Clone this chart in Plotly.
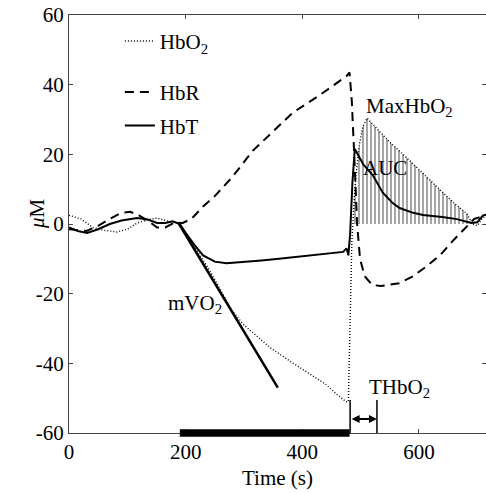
import numpy as np
import plotly.graph_objects as go

# ---- data ----
hbo2_t = [0, 20, 41, 60, 82, 100, 117, 135, 151, 165, 175, 190, 205, 220, 240, 260, 280, 300, 320,
          345, 380, 413, 440, 460, 475, 479, 482, 485, 490, 497, 504, 511, 530, 550, 579, 610, 636,
          660, 682, 692, 700, 708, 715]
hbo2_v = [2.5, 1.5, -1, -1.8, -2.3, -1.5, 0.3, 1.2, 1.7, 1.0, 0.6, 0, -4, -8, -13, -19, -25, -29, -32,
          -35.5, -39.5, -43, -46, -49, -51, -51, -30, -5, 10, 22, 28, 30.4, 27, 23.5, 19, 14, 9.8,
          6, 3, 0, -0.5, 1.5, 2.5]

hbr_t = [0, 30, 50, 70, 90, 105, 120, 135, 151, 165, 180, 195, 210, 230, 250, 280, 315, 350, 384,
         430, 460, 476, 481, 485, 489, 494, 499, 507, 520, 535, 566, 590, 614, 636, 660, 680, 695, 715]
hbr_v = [-1.5, -2, -0.5, 1.5, 3.2, 3.5, 2.5, 1.0, -1, -1.0, 0.3, 0.3, 1.5, 5, 8, 13.5, 21, 26.5, 32,
         37, 40.5, 42.5, 43.5, 35, 20, 0, -10, -15, -17.5, -17.8, -17, -15, -12, -9, -4.5, -1, 1.5, 2.5]

hbt_t = [0, 15, 31, 50, 70, 90, 117, 135, 151, 165, 178, 190, 200, 215, 230, 250, 270, 300, 330,
         360, 400, 440, 470, 476, 479, 482, 486, 490, 495, 505, 521, 538, 555, 567, 590, 607, 640,
         665, 690, 700, 710, 715]
hbt_v = [-1, -2, -2.6, -1.5, 0, 1, 1.7, 1.3, 0.3, 0.3, 0.8, 0, -2.5, -6, -9, -10.8, -11.3, -11, -10.5,
         -10, -9.3, -8.7, -8, -7, -9, -3, 12, 21.5, 20, 17, 14, 9, 6, 4.6, 3.2, 2.6, 2,
         1.4, 0.3, 0.5, 2.5, 2.7]

mvo2_t = [187, 358]
mvo2_v = [0.5, -47]

stim_t = [190, 481]          # stimulus bar
thbo2_t = [482, 528]         # time-to-peak interval
thbo2_level = [-50.5, -56]   # marker top / arrow level
auc_range = [485, 692]

x_ticks = [0, 200, 400, 600]
x_ticktext = ["0", "200", "400", "600"]
y_ticks = [-60, -40, -20, 0, 20, 40, 60]
y_ticktext = ["-60", "-40", "-20", "0", "20", "40", "60"]

FONT = "Liberation Serif"
FS = 21

fig = go.Figure()

# AUC hatch (from HbO2 values)
ht = np.array(hbo2_t, dtype=float)
hv = np.array(hbo2_v, dtype=float)
m = (ht >= auc_range[0]) & (ht <= auc_range[1])
fig.add_trace(go.Scatter(x=ht[m], y=np.clip(hv[m], 0, None), mode="lines", line=dict(width=0),
                         fill="tozeroy", fillcolor="rgba(0,0,0,0)",
                         fillpattern=dict(shape="|", size=4, solidity=0.35, fgcolor="black",
                                          bgcolor="rgba(0,0,0,0)", fillmode="overlay"),
                         showlegend=False, hoverinfo="skip"))

fig.add_trace(go.Scatter(x=hbo2_t, y=hbo2_v, mode="lines", name="HbO<sub>2</sub>",
                         line=dict(color="black", width=1.4, dash="1px,2px"), legend="legend"))
fig.add_trace(go.Scatter(x=hbr_t, y=hbr_v, mode="lines", name="HbR",
                         line=dict(color="black", width=2, dash="9px,6px"), legend="legend2"))
fig.add_trace(go.Scatter(x=hbt_t, y=hbt_v, mode="lines", name="HbT",
                         line=dict(color="black", width=2), legend="legend3"))
fig.add_trace(go.Scatter(x=mvo2_t, y=mvo2_v, mode="lines", showlegend=False,
                         line=dict(color="black", width=2.5)))

shapes = [
    dict(type="rect", xref="x", yref="paper", x0=stim_t[0], x1=stim_t[1], y0=-0.009, y1=0.009,
         fillcolor="black", line=dict(width=0)),
    dict(type="line", xref="x", yref="y", x0=thbo2_t[0], x1=thbo2_t[0], y0=-60, y1=thbo2_level[0],
         line=dict(color="black", width=1.5)),
    dict(type="line", xref="x", yref="y", x0=thbo2_t[1], x1=thbo2_t[1], y0=-60, y1=thbo2_level[0],
         line=dict(color="black", width=1.5)),
]

ann = [
    dict(x=thbo2_t[1], y=thbo2_level[1], ax=thbo2_t[0], ay=thbo2_level[1], xref="x", yref="y",
         axref="x", ayref="y", text="", showarrow=True, arrowhead=2, arrowside="end+start",
         arrowwidth=2, arrowsize=0.8, arrowcolor="black"),
    dict(x=566, y=-47, text="THbO<sub>2</sub>", showarrow=False, xref="x", yref="y"),
    dict(x=583, y=33.6, text="MaxHbO<sub>2</sub>", showarrow=False, xref="x", yref="y"),
    dict(x=542, y=16, text="AUC", showarrow=False, xref="x", yref="y"),
    dict(x=216, y=-23, text="mVO<sub>2</sub>", showarrow=False, xref="x", yref="y"),
    dict(x=0.5, y=-0.108, text="Time (s)", showarrow=False, xref="paper", yref="paper",
         xanchor="center", yanchor="middle"),
    dict(x=-0.077, y=0.526, text="<i>μ</i>M", showarrow=False, xref="paper", yref="paper",
         textangle=-90, xanchor="center", yanchor="middle"),
]

leg = dict(font=dict(family=FONT, size=FS, color="black"), bgcolor="rgba(0,0,0,0)",
           xanchor="left", yanchor="middle", borderwidth=0)

axis_common = dict(ticks="inside", ticklen=4, mirror="allticks", showline=True, linecolor="#444",
                   linewidth=1.2, tickcolor="#444", showgrid=False, zeroline=False,
                   automargin=False, ticklabeloverflow="allow",
                   tickfont=dict(family=FONT, size=FS, color="black"))

fig.update_layout(
    width=486, height=493,
    margin=dict(l=69, r=0, t=15, b=60, autoexpand=False),
    plot_bgcolor="white", paper_bgcolor="white",
    font=dict(family=FONT, size=FS, color="black"),
    shapes=shapes, annotations=ann,
    legend=dict(leg, x=0.122, y=0.937),
    legend2=dict(leg, x=0.122, y=0.815),
    legend3=dict(leg, x=0.122, y=0.735),
    xaxis=dict(axis_common, range=[0, 715], tickvals=x_ticks, ticktext=x_ticktext),
    yaxis=dict(axis_common, range=[-60, 60], tickvals=y_ticks, ticktext=y_ticktext),
)

fig.write_html("out.html", config={"displayModeBar": False},
               post_script="document.body.style.margin='0';")
